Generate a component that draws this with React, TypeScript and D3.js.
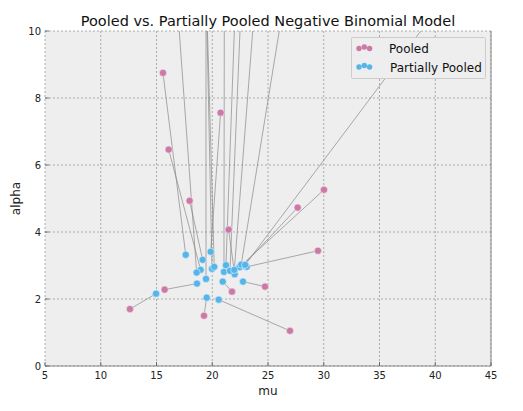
import React from "react";
import * as d3 from "d3";

// Pooled estimates (mu, alpha); several lie above the plotted range
const pooledMu = [12.62, 15.58, 16.09, 17.97, 20.75, 21.47, 15.73, 19.26, 26.97, 24.73, 21.77, 29.48, 27.66, 30.02,
  16.39, 19.44, 18.77, 18.88, 21.10, 22.41, 22.74, 25.02, 30.90, 43.22];
const pooledAlpha = [1.70, 8.75, 6.46, 4.93, 7.56, 4.07, 2.28, 1.50, 1.05, 2.37, 2.22, 3.44, 4.73, 5.26,
  13, 30, 22, 18, 15, 14, 12, 16, 20, 12];
// Partially pooled estimates
const partialMu = [14.96, 17.62, 18.96, 19.14, 19.86, 22.01, 18.63, 19.50, 20.58, 22.76, 20.94, 23.09, 22.73, 22.43,
  18.60, 19.44, 19.98, 20.18, 21.05, 21.23, 21.59, 21.98, 22.60, 22.95];
const partialAlpha = [2.16, 3.32, 2.87, 3.17, 3.41, 2.74, 2.46, 2.04, 1.98, 2.52, 2.52, 2.96, 2.99, 2.95,
  2.79, 2.60, 2.90, 2.96, 2.81, 3.01, 2.84, 2.87, 3.03, 3.02];

const xTicks = [5, 10, 15, 20, 25, 30, 35, 40, 45];
const yTicks = [0, 2, 4, 6, 8, 10];

const PINK = "#CC79A7";
const BLUE = "#56B4E9";

export default function App() {
  const W = 523, H = 411;
  const left = 45, right = 491, top = 31, bottom = 366;
  const x = d3.scaleLinear().domain([5, 45]).range([left, right]);
  const y = d3.scaleLinear().domain([0, 10]).range([bottom, top]);
  const font = "DejaVu Sans, sans-serif";
  const r = 3.6;

  return (
    <svg width={W} height={H} style={{ position: "absolute", left: 0, top: 0 }} fontFamily={font}>
      <defs>
        <clipPath id="plotclip">
          <rect x={left} y={top} width={right - left} height={bottom - top} />
        </clipPath>
      </defs>
      <rect x={0} y={0} width={W} height={H} fill="#fff" />
      <rect x={left} y={top} width={right - left} height={bottom - top} fill="#eeeeee" />
      {/* grid */}
      {xTicks.map((t) => (
        <line key={"gx" + t} x1={x(t)} x2={x(t)} y1={top} y2={bottom} stroke="#999" strokeWidth={0.8} strokeDasharray="2,2" />
      ))}
      {yTicks.map((t) => (
        <line key={"gy" + t} x1={left} x2={right} y1={y(t)} y2={y(t)} stroke="#999" strokeWidth={0.8} strokeDasharray="2,2" />
      ))}
      {/* connecting lines */}
      <g clipPath="url(#plotclip)">
        {pooledMu.map((m, i) => (
          <line key={"l" + i} x1={x(m)} y1={y(pooledAlpha[i])} x2={x(partialMu[i])} y2={y(partialAlpha[i])}
            stroke="#888" strokeWidth={0.7} />
        ))}
        {pooledMu.map((m, i) => (
          <circle key={"p" + i} cx={x(m)} cy={y(pooledAlpha[i])} r={r} fill={PINK} stroke="#f4e6ee" strokeWidth={0.6} />
        ))}
        {partialMu.map((m, i) => (
          <circle key={"b" + i} cx={x(m)} cy={y(partialAlpha[i])} r={r} fill={BLUE} stroke="#e4f2fb" strokeWidth={0.6} />
        ))}
      </g>
      {/* spines */}
      <line x1={left} x2={right} y1={bottom} y2={bottom} stroke="#888" strokeWidth={1} />
      <line x1={right} x2={right} y1={top} y2={bottom} stroke="#888" strokeWidth={1} />
      {/* ticks */}
      {xTicks.map((t) => (
        <g key={"tx" + t}>
          <line x1={x(t)} x2={x(t)} y1={bottom} y2={bottom - 4} stroke="#555" strokeWidth={0.8} />
          <text x={x(t)} y={bottom + 13} textAnchor="middle" fontSize={10} fill="#222">{t}</text>
        </g>
      ))}
      {yTicks.map((t) => (
        <g key={"ty" + t}>
          <line x1={left} x2={left + 4} y1={y(t)} y2={y(t)} stroke="#555" strokeWidth={0.8} />
          <text x={left - 4} y={y(t) + 3.5} textAnchor="end" fontSize={10} fill="#222">{t}</text>
        </g>
      ))}
      {/* labels */}
      <text x={(left + right) / 2} y={395} textAnchor="middle" fontSize={12} fill="#222">mu</text>
      <text transform={`translate(20,${(top + bottom) / 2}) rotate(-90)`} textAnchor="middle" fontSize={12} fill="#222">alpha</text>
      <text x={(left + right) / 2} y={26} textAnchor="middle" fontSize={14.5} fill="#111">Pooled vs. Partially Pooled Negative Binomial Model</text>
      {/* legend */}
      <g>
        <rect x={351.5} y={37.5} width={134} height={41} fill="#eeeeee" stroke="#ccc" strokeWidth={1} rx={1} />
        {[0, 1, 2].map((k) => (
          <circle key={"lp" + k} cx={359 + k * 5.3} cy={k === 1 ? 47 : 48.5} r={2.7} fill={PINK} />
        ))}
        {[0, 1, 2].map((k) => (
          <circle key={"lb" + k} cx={359 + k * 5.3} cy={k === 1 ? 65.5 : 67} r={2.7} fill={BLUE} />
        ))}
        <text x={389} y={52.5} fontSize={12} fill="#111">Pooled</text>
        <text x={390} y={71.5} fontSize={12} fill="#111">Partially Pooled</text>
      </g>
    </svg>
  );
}
